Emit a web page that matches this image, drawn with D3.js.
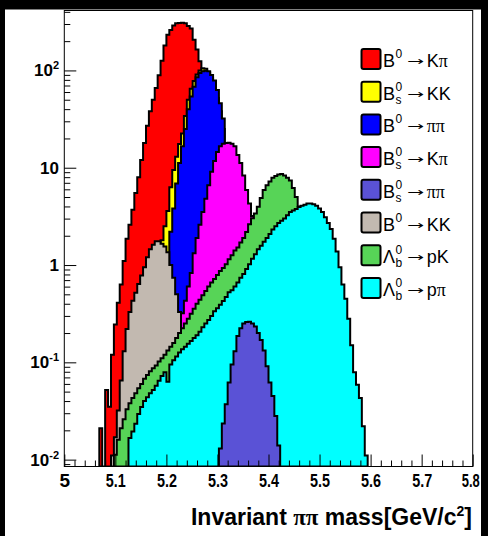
<!DOCTYPE html>
<html>
<head>
<meta charset="utf-8">
<script src="https://cdn.jsdelivr.net/npm/d3@7"></script>
<style>
  body { margin: 0; background: #000; }
  svg { display: block; }
  .tick line { stroke: #000; }
</style>
</head>
<body>
<svg id="chart" width="488" height="536"></svg>
<script>
// Invariant pi-pi mass spectrum, two-body B decays, log-y step histograms.
// Binning: 140 bins over [5.0, 5.8] GeV/c^2. Each channel = start bin + contents.
const BIN_LO = 5.0;
const BIN_W = 0.8 / 140;

const X_MAJOR = [5, 5.1, 5.2, 5.3, 5.4, 5.5, 5.6, 5.7, 5.8];
const Y_DECADES = [-2, -1, 0, 1, 2];

// B0 -> K pi
const bdKpiStart = 12;
const bdKpi = [0.021, 0, 0.052, 0.035, 0.12, 0.245, 0.41, 0.63, 1.1, 1.86, 2.6, 3.7, 5.5, 8.0,
  12, 18, 27, 38, 50, 66, 89, 126, 180, 232, 261, 289, 305, 308, 309, 305, 286, 269, 207,
  164, 124, 90, 50, 20, 6];
// Bs -> K K
const bsKKStart = 29;
const bsKK = [0.2, 0.4, 0.8, 1.3, 1.8, 2.5, 3.6, 6.3, 9.5, 13, 17.5, 22.5, 34, 50, 65, 78, 91,
  100, 105, 104, 95, 83, 68, 52, 38, 25, 14, 8, 4, 1.5];
// B0 -> pi pi
const bdPiPiStart = 33;
const bdPiPi = [0.1, 0.3, 0.8, 2.2, 3.8, 6.9, 11.2, 16.6, 25, 40, 54, 68, 85, 94, 98, 99, 98,
  90, 79, 63, 46, 32, 16, 10, 5, 2, 0.8, 0.3];
// Bs -> K pi
const bsKpiStart = 39;
const bsKpi = [0.2, 0.32, 0.43, 0.6, 0.83, 1.32, 1.9, 2.6, 3.5, 4.8, 6.6, 9.1, 11.7, 14.5, 16.6,
  17.6, 18, 18.1, 17.6, 16.6, 13.5, 11.2, 8.3, 5.9, 4.3, 3.2, 2.5, 1.8, 1.2, 0.8, 0.5];
// B0 -> K K
const bdKKStart = 16;
const bdKK = [0.011, 0.017, 0.032, 0.065, 0.13, 0.22, 0.33, 0.43, 0.52, 0.64, 0.78, 0.95, 1.2,
  1.45, 1.62, 1.76, 1.76, 1.65, 1.55, 1.35, 1.0, 0.74, 0.5, 0.33, 0.2, 0.12, 0.07];
// Lambda_b -> p K
const lbPKStart = 17;
const lbPK = [0.0112, 0.016, 0.021, 0.026, 0.033, 0.038, 0.043, 0.048, 0.054, 0.060, 0.068,
  0.074, 0.081, 0.087, 0.093, 0.102, 0.11, 0.12, 0.132, 0.145, 0.158, 0.178, 0.20, 0.224, 0.25,
  0.28, 0.316, 0.355, 0.40, 0.44, 0.49, 0.54, 0.60, 0.66, 0.72, 0.79, 0.87, 0.93, 1.02, 1.15,
  1.26, 1.41, 1.51, 1.7, 1.9, 2.19, 2.63, 3.02, 3.39, 3.98, 4.9, 5.9, 6.6, 7.2, 7.9, 8.2, 8.5,
  8.6, 8.3, 7.9, 7.4, 6.2, 5.0, 4.0, 3.2, 2.4, 1.7, 1.1, 0.7, 0.4, 0.22, 0.1];
// Lambda_b -> p pi
const lbPpiStart = 22;
const lbPpi = [0.0167, 0.0195, 0.0234, 0.0295, 0.0347, 0.040, 0.0437, 0.048, 0.052, 0.0575,
  0.0645, 0.0725, 0.079, 0.063, 0.095, 0.105, 0.115, 0.126, 0.136, 0.145, 0.155, 0.166, 0.178,
  0.19, 0.206, 0.229, 0.25, 0.272, 0.30, 0.335, 0.359, 0.39, 0.427, 0.468, 0.525, 0.55, 0.60,
  0.66, 0.74, 0.81, 0.91, 1.02, 1.16, 1.29, 1.45, 1.58, 1.74, 1.9, 2.09, 2.32, 2.5, 2.7, 2.85,
  3.0, 3.24, 3.5, 3.63, 3.76, 3.94, 4.07, 4.17, 4.29, 4.3, 4.22, 4.07, 3.8, 3.5, 3.1, 2.7, 2.35,
  1.86, 1.38, 0.95, 0.63, 0.45, 0.28, 0.15, 0.079, 0.059, 0.043, 0.022, 0.011];
// Bs -> pi pi
const bsPiPiStart = 53;
const bsPiPi = [0.013, 0.0235, 0.037, 0.062, 0.095, 0.13, 0.186, 0.224, 0.25, 0.26, 0.262,
  0.25, 0.234, 0.20, 0.17, 0.132, 0.091, 0.062, 0.045, 0.028, 0.014];

// Legend rows (top to bottom): base, subscript, final state
const LEGEND = [
  { base: 'B', sub: '', fs: 'Kπ', color: '#ff0000' },
  { base: 'B', sub: 's', fs: 'KK', color: '#ffff00' },
  { base: 'B', sub: '', fs: 'ππ', color: '#0000ff' },
  { base: 'B', sub: 's', fs: 'Kπ', color: '#ff00ff' },
  { base: 'B', sub: 's', fs: 'ππ', color: '#5a52d6' },
  { base: 'B', sub: '', fs: 'KK', color: '#c2b9b0' },
  { base: 'Λ', sub: 'b', fs: 'pK', color: '#57d457' },
  { base: 'Λ', sub: 'b', fs: 'pπ', color: '#00ffff' },
];

// Drawing order back -> front (stack order, largest on the back)
const HISTS = [
  { start: bdKpiStart, vals: bdKpi, color: LEGEND[0].color },
  { start: bsKKStart, vals: bsKK, color: LEGEND[1].color },
  { start: bdPiPiStart, vals: bdPiPi, color: LEGEND[2].color },
  { start: bsKpiStart, vals: bsKpi, color: LEGEND[3].color },
  { start: bdKKStart, vals: bdKK, color: LEGEND[5].color },
  { start: lbPKStart, vals: lbPK, color: LEGEND[6].color },
  { start: lbPpiStart, vals: lbPpi, color: LEGEND[7].color },
  { start: bsPiPiStart, vals: bsPiPi, color: LEGEND[4].color },
];

const FRAME = { left: 64.3, right: 472.7, top: 10.5, bottom: 466.5 };
const SANS = '"Liberation Sans", Arial, sans-serif';
const SERIF = '"Liberation Serif", "Times New Roman", serif';

const svg = d3.select('#chart');

// Black surround, white canvas
svg.append('rect').attr('width', 488).attr('height', 536).attr('fill', '#000');
svg.append('rect').attr('x', 5).attr('y', 9.5).attr('width', 476).attr('height', 527).attr('fill', '#fff');

const x = d3.scaleLinear().domain([5, 5.8]).range([FRAME.left, FRAME.right]);
const y = d3.scaleLog().domain([0.0085, 413]).range([FRAME.bottom, FRAME.top]);

const edge = (k) => BIN_LO + k * BIN_W;

function histPath(start, vals) {
  const yb = FRAME.bottom;
  const pts = [[x(edge(start)), yb]];
  vals.forEach((v, i) => {
    const yy = v > y.domain()[0] ? y(v) : yb;
    pts.push([x(edge(start + i)), yy], [x(edge(start + i + 1)), yy]);
  });
  pts.push([x(edge(start + vals.length)), yb]);
  return d3.line()(pts) + 'Z';
}

svg.append('clipPath').attr('id', 'frameClip')
  .append('rect')
  .attr('x', FRAME.left).attr('y', FRAME.top)
  .attr('width', FRAME.right - FRAME.left).attr('height', FRAME.bottom - FRAME.top);

svg.append('g')
  .attr('clip-path', 'url(#frameClip)')
  .selectAll('path')
  .data(HISTS)
  .join('path')
  .attr('d', (d) => histPath(d.start, d.vals))
  .attr('fill', (d) => d.color)
  .attr('stroke', '#000')
  .attr('stroke-width', 2)
  .attr('stroke-linejoin', 'miter');

// Frame
svg.append('rect')
  .attr('x', FRAME.left).attr('y', FRAME.top)
  .attr('width', FRAME.right - FRAME.left).attr('height', FRAME.bottom - FRAME.top)
  .attr('fill', 'none').attr('stroke', '#000').attr('stroke-width', 1);

// Y axis: ticks inside the frame
const yMinor = [];
for (let d = -3; d <= 2; d++) {
  for (let m = 2; m <= 9; m++) {
    const v = m * Math.pow(10, d);
    if (v > y.domain()[0] && v < y.domain()[1]) yMinor.push(v);
  }
}
const yMajor = Y_DECADES.map((d) => Math.pow(10, d));

svg.append('g').attr('transform', `translate(${FRAME.left},0)`)
  .call(d3.axisLeft(y).tickValues(yMinor).tickSize(-6).tickSizeOuter(0).tickFormat(''))
  .call((g) => g.select('.domain').remove());
svg.append('g').attr('transform', `translate(${FRAME.left},0)`)
  .call(d3.axisLeft(y).tickValues(yMajor).tickSize(-12).tickSizeOuter(0).tickFormat(''))
  .call((g) => g.select('.domain').remove());

// Y labels: 10^d
Y_DECADES.forEach((d) => {
  const t = svg.append('text')
    .attr('x', 59).attr('y', y(Math.pow(10, d)) + 6)
    .attr('text-anchor', 'end')
    .attr('font-family', SANS).attr('font-weight', 'bold').attr('font-size', 17);
  if (d === 0) { t.text('1'); return; }
  t.append('tspan').text('10');
  if (d !== 1) {
    t.append('tspan').attr('dy', -7).attr('font-size', 11).text(String(d));
  }
});

// X axis
const xMinor = d3.range(0, 41).map((i) => 5 + i * 0.02)
  .filter((v) => Math.abs(v * 10 - Math.round(v * 10)) > 1e-6);

svg.append('g').attr('transform', `translate(0,${FRAME.bottom})`)
  .call(d3.axisBottom(x).tickValues(xMinor).tickSize(-6).tickSizeOuter(0).tickFormat(''))
  .call((g) => g.select('.domain').remove());
svg.append('g').attr('transform', `translate(0,${FRAME.bottom})`)
  .call(d3.axisBottom(x).tickValues(X_MAJOR).tickSize(-12).tickSizeOuter(0).tickPadding(7)
    .tickFormat((v) => (v === 5 ? '5' : d3.format('.1f')(v))))
  .call((g) => g.select('.domain').remove())
  .call((g) => g.selectAll('text')
    .attr('font-family', SANS).attr('font-weight', 'bold').attr('font-size', 19).attr('fill', '#000')
    .attr('textLength', (v) => (v === 5 ? null : v === 5.8 ? 18 : 20))
    .attr('lengthAdjust', 'spacingAndGlyphs')
    .attr('x', (v) => (v === 5.8 ? -2.5 : 0)));

// X title
const title = svg.append('text')
  .attr('x', 472).attr('y', 525)
  .attr('text-anchor', 'end')
  .attr('font-family', SANS).attr('font-weight', 'bold').attr('font-size', 23);
title.append('tspan').text('Invariant ');
title.append('tspan').attr('font-family', SERIF).text('ππ');
title.append('tspan').text(' mass[GeV/c');
title.append('tspan').attr('dy', -9).attr('font-size', 14).text('2');
title.append('tspan').attr('dy', 9).text(']');

// Legend
const leg = svg.append('g').attr('font-family', SANS).attr('font-size', 18);
LEGEND.forEach((e, i) => {
  const cy = 59 + i * 32.7;
  leg.append('rect')
    .attr('x', 361.5).attr('y', cy - 10).attr('width', 19).attr('height', 20)
    .attr('rx', 2)
    .attr('fill', e.color).attr('stroke', '#000').attr('stroke-width', 2);

  const x0 = 383;
  const base = leg.append('text').attr('x', x0).attr('y', cy + 8).text(e.base);
  const bw = base.node().getComputedTextLength();
  const sup = leg.append('text').attr('x', x0 + bw + 0.5).attr('y', cy - 1)
    .attr('font-size', 12).text('0');
  if (e.sub) {
    leg.append('text').attr('x', x0 + bw + 0.5).attr('y', cy + 12)
      .attr('font-size', 12).text(e.sub);
  }
  const sw = sup.node().getComputedTextLength();
  const ax = x0 + bw + sw + 5;
  // thin arrow: small glyph stretched to the reference width
  leg.append('text').attr('x', ax).attr('y', cy + 6)
    .attr('font-family', '"DejaVu Sans", sans-serif').attr('font-size', 12)
    .attr('textLength', 17).attr('lengthAdjust', 'spacingAndGlyphs').text('→');
  const fs = leg.append('text').attr('x', ax + 20).attr('y', cy + 8);
  for (const ch of e.fs) {
    fs.append('tspan')
      .attr('font-family', ch === 'π' ? SERIF : SANS)
      .text(ch);
  }
});
</script>
</body>
</html>
